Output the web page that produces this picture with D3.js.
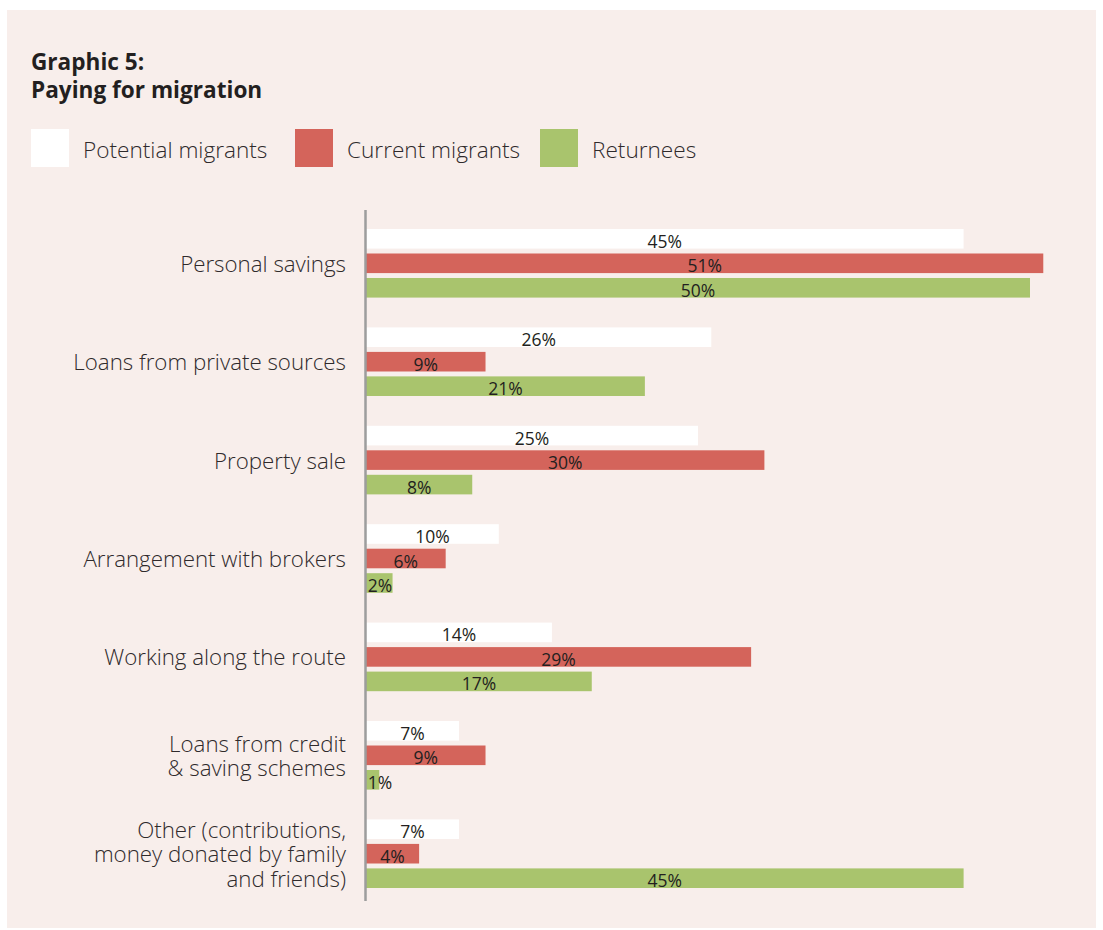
<!DOCTYPE html>
<html>
<head>
<meta charset="utf-8">
<script src="https://cdn.jsdelivr.net/npm/d3@7"></script>
<style>
  html, body { margin: 0; padding: 0; background: #ffffff; }
  svg { display: block; font-family: "Open Sans", "Noto Sans", sans-serif; }
</style>
</head>
<body>
<svg id="chart" width="1103" height="930"></svg>
<script>
const categories = [
  ["Personal savings"],
  ["Loans from private sources"],
  ["Property sale"],
  ["Arrangement with brokers"],
  ["Working along the route"],
  ["Loans from credit", "& saving schemes"],
  ["Other (contributions,", "money donated by family", "and friends)"]
];
const seriesNames = ["Potential migrants", "Current migrants", "Returnees"];
const seriesColors = ["#ffffff", "#d4645b", "#a9c46d"];
const potentialMigrants = [45, 26, 25, 10, 14, 7, 7];
const currentMigrants = [51, 9, 30, 6, 29, 9, 4];
const returnees = [50, 21, 8, 2, 17, 1, 45];
const seriesValues = [potentialMigrants, currentMigrants, returnees];

const svg = d3.select("#chart");

// panel
svg.append("rect").attr("x", 7).attr("y", 10).attr("width", 1089).attr("height", 918)
  .attr("fill", "#f8eeeb");

// title
const title = svg.append("text")
  .attr("font-size", 22.6).attr("font-weight", 700).attr("fill", "#231f20");
title.append("tspan").attr("x", 31).attr("y", 70).text("Graphic 5:");
title.append("tspan").attr("x", 31).attr("y", 98).text("Paying for migration");

// legend
const legendX = [31, 295, 540];
seriesNames.forEach((name, i) => {
  const g = svg.append("g").attr("transform", `translate(${legendX[i]},129)`);
  g.append("rect").attr("width", 38).attr("height", 38).attr("fill", seriesColors[i]);
  g.append("text").attr("x", 52).attr("y", 29).attr("font-size", 22.6)
    .attr("font-weight", 300)
    .attr("fill", "#2f2a2b").text(name);
});

const idx = d3.range(categories.length);
const y = d3.scaleBand().domain(idx).range([229, 888]).paddingInner(0.303).paddingOuter(0);
const yInner = d3.scaleBand().domain(d3.range(3)).range([0, y.bandwidth()]).paddingInner(0.2);
const x = d3.scaleLinear().domain([0, 50]).range([366, 1030]);

// bars
seriesValues.forEach((vals, s) => {
  svg.append("g").selectAll("rect").data(vals).join("rect")
    .attr("x", x(0))
    .attr("y", (d, i) => y(i) + yInner(s))
    .attr("width", d => x(d) - x(0))
    .attr("height", yInner.bandwidth())
    .attr("fill", seriesColors[s]);
  svg.append("g").selectAll("text").data(vals).join("text")
    .attr("x", d => Math.max((x(0) + x(d)) / 2, x(0) + 14))
    .attr("y", (d, i) => y(i) + yInner(s) + yInner.bandwidth() / 2 + 2)
    .attr("dominant-baseline", "central")
    .attr("text-anchor", "middle")
    .attr("font-size", 17.5)
    .attr("fill", "#231f20")
    .text(d => d + "%");
});

// axis line
svg.append("line").attr("x1", 365.5).attr("x2", 365.5).attr("y1", 210).attr("y2", 901)
  .attr("stroke", "#9d9d9d").attr("stroke-width", 2.5);

// category labels
const lineH = 24.5;
categories.forEach((lines, i) => {
  const cy = y(i) + yInner(1) + yInner.bandwidth() / 2;
  const t = svg.append("text").attr("text-anchor", "end").attr("font-size", 22.3)
    .attr("font-weight", 300)
    .attr("fill", "#2f2a2b");
  lines.forEach((ln, k) => {
    t.append("tspan").attr("x", 346)
      .attr("y", cy + (k - (lines.length - 1) / 2) * lineH + 8.5)
      .text(ln);
  });
});
</script>
</body>
</html>
